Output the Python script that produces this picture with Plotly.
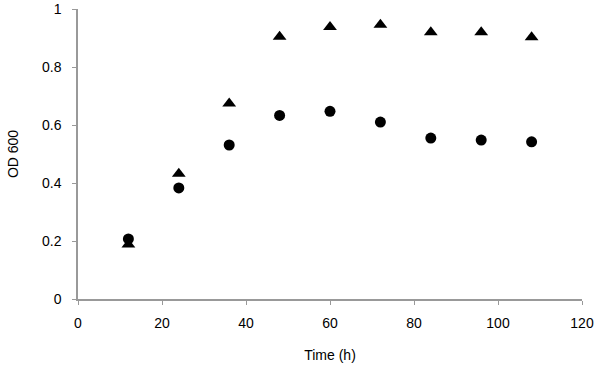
import plotly.graph_objects as go

time_h = [12, 24, 36, 48, 60, 72, 84, 96, 108]
od_circle = [0.207, 0.383, 0.531, 0.633, 0.647, 0.610, 0.555, 0.548, 0.542]
od_triangle = [0.188, 0.432, 0.674, 0.904, 0.938, 0.946, 0.920, 0.920, 0.903]

fig = go.Figure()
fig.add_trace(go.Scatter(x=time_h, y=od_circle, mode="markers", cliponaxis=False,
                         marker=dict(symbol="circle", size=11, color="black"), showlegend=False))
fig.add_trace(go.Scatter(x=time_h, y=od_triangle, mode="markers", cliponaxis=False,
                         marker=dict(symbol="triangle-up", size=12, color="black"), showlegend=False))

axis_common = dict(showline=True, linecolor="#999999", linewidth=1.5, showgrid=False, zeroline=False,
                   ticks="outside", ticklen=4, tickcolor="#999999", tickwidth=1, automargin=False,
                   tickfont=dict(family="Liberation Sans, Arial", size=14, color="black"),
                   title_font=dict(family="Liberation Sans, Arial", size=14, color="black"))

fig.update_xaxes(range=[0, 120], tick0=0, dtick=20, title_text="Time (h)", title_standoff=21,
                 ticklabelstandoff=6, **axis_common)
fig.update_yaxes(range=[0, 1], tick0=0, dtick=0.2, title_text="OD 600", title_standoff=20,
                 ticklabelstandoff=8, **axis_common)

fig.update_layout(width=600, height=367, margin=dict(l=78, r=18, t=9, b=68),
                  plot_bgcolor="white", paper_bgcolor="white")

fig.write_html("out.html", config={"displayModeBar": False},
               post_script="document.body.style.margin='0';document.body.style.overflow='hidden';")
